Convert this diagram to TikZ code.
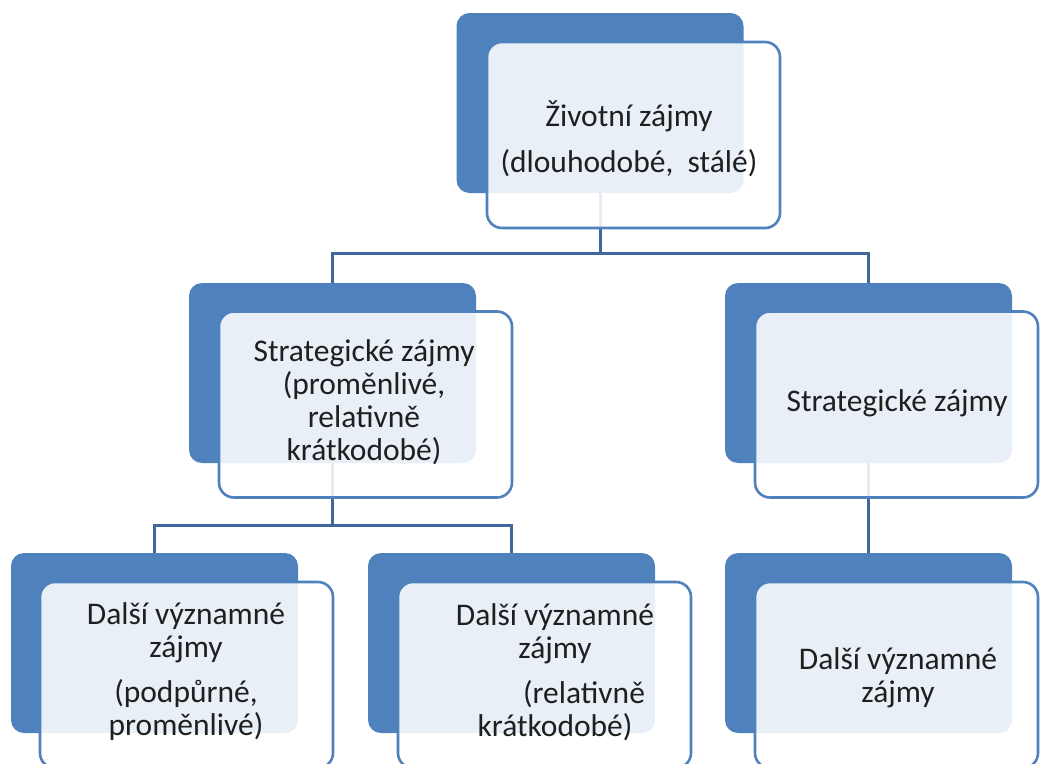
\documentclass[tikz,border=0pt]{standalone}
\usepackage{fontspec}
\setmainfont{Carlito}
\definecolor{accent}{HTML}{4F81BD}
\definecolor{linkcol}{HTML}{41689C}
\definecolor{txt}{HTML}{1F1F1F}
\begin{document}
\begin{tikzpicture}[x=1pt,y=-1pt,
  back/.style={rectangle, rounded corners=13pt, fill=accent, minimum width=287pt, minimum height=180pt, inner sep=0pt},
  front/.style={rectangle, rounded corners=15pt, draw=accent, line width=2.6pt, fill=white, fill opacity=0.88, draw opacity=1, minimum width=293pt, minimum height=186pt, inner sep=0pt},
  frontr/.style={front, minimum width=283pt},
  boxtext/.style={align=center, text=txt, font=\fontsize{31.5}{33}\selectfont, inner sep=0pt},
  link/.style={draw=linkcol, line width=3pt}]
\useasboundingbox (0,0) rectangle (1040,763);
\clip (0,0) rectangle (1040,763);
% back plates
\node[back] (b0) at (600,103) {};
\node[back] (b1) at (332.5,373) {};
\node[back] (b2) at (868.5,373) {};
\node[back] (b3) at (154.5,643) {};
\node[back] (b4) at (511.5,643) {};
\node[back] (b5) at (868.5,643) {};
% connectors
\coordinate (j0) at (600,253);
\coordinate (j1) at (332.5,525);
\draw[link] (b0.south) -- (j0) -| (b1.north);
\draw[link] (j0) -| (b2.north);
\draw[link] (b1.south) -- (j1) -| (b3.north);
\draw[link] (j1) -| (b4.north);
\draw[link] (b2.south) -- (b5.north);
% front boxes
\node[front] (f0) at (633.5,135) {};
\node[front] (f1) at (365.5,404.5) {};
\node[frontr] (f2) at (896.5,404.5) {};
\node[front] (f3) at (186.5,675) {};
\node[front] (f4) at (544.5,675) {};
\node[frontr] (f5) at (896.5,675) {};
% texts
\node[boxtext] (t0) at (629,139) {Životní zájmy\\[13pt](dlouhodobé,\ \ stálé)};
\node[boxtext] (t1) at (364,402.5) {Strategické zájmy\\(proměnlivé,\\relativně\\krátkodobé)};
\node[boxtext] (t2) at (897,403) {Strategické zájmy};
\node[boxtext] (t3) at (186,672) {Další významné\\zájmy\\[12pt](podpůrné,\\proměnlivé)};
\node[boxtext] (t4) at (555,672) {Další významné\\zájmy\hspace*{32pt}\\[12pt]\hspace*{58pt}(relativně\\krátkodobé)};
\node[boxtext] (t5) at (898,678) {Další významné\\zájmy};
\end{tikzpicture}
\end{document}
